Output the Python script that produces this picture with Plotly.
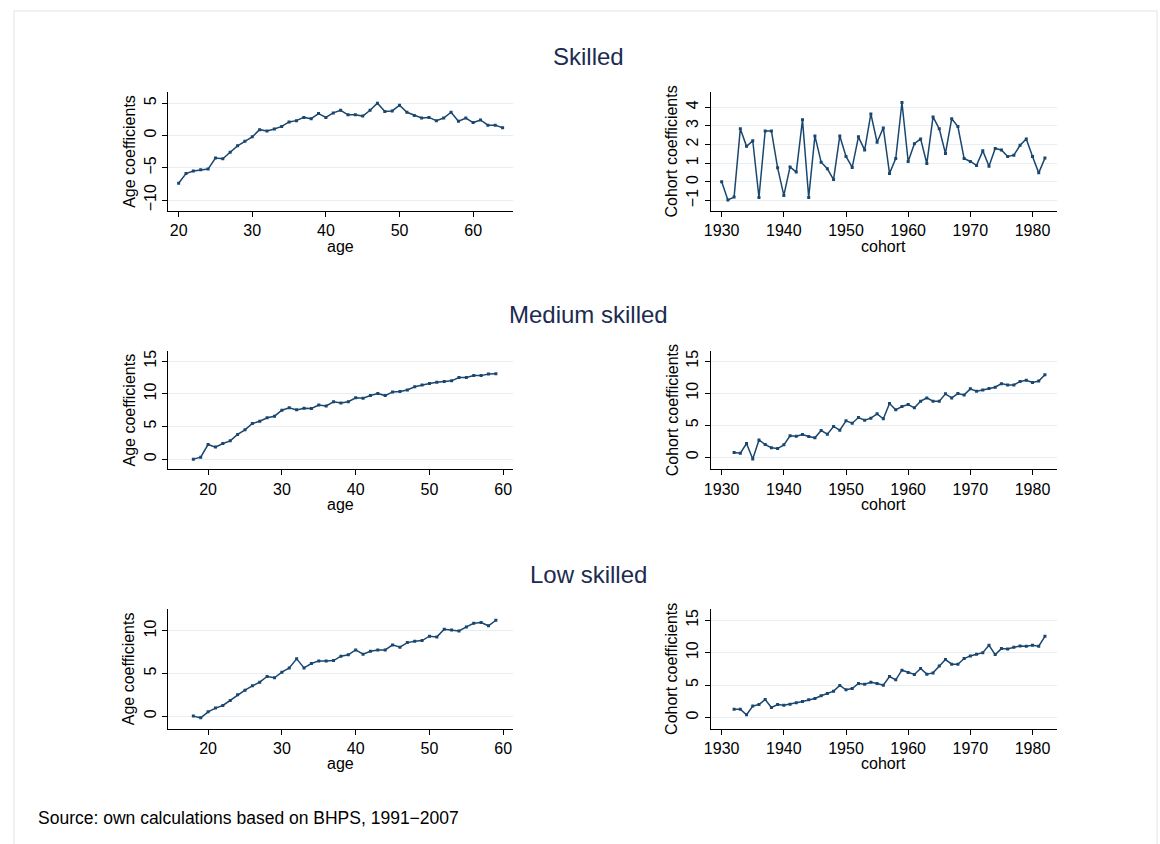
import plotly.graph_objects as go

W, H = 1160, 844

# ---------------- data ----------------
skilled_age = list(range(20, 65))
skilled_age_coef = [-7.4, -5.9, -5.5, -5.3, -5.2, -3.5, -3.6, -2.6, -1.6, -0.9, -0.2, 0.9, 0.7, 1.0, 1.4,
                    2.1, 2.3, 2.8, 2.6, 3.4, 2.8, 3.5, 3.9, 3.2, 3.2, 3.0, 3.9, 5.0, 3.7, 3.8,
                    4.7, 3.6, 3.1, 2.7, 2.8, 2.3, 2.7, 3.6, 2.2, 2.7, 2.0, 2.4, 1.6, 1.6, 1.2]

skilled_cohort = list(range(1930, 1983))
skilled_cohort_coef = [0.0, -0.97, -0.82, 2.84, 1.9, 2.2, -0.84, 2.73, 2.73, 0.75, -0.73, 0.8, 0.52, 3.32,
                       -0.84, 2.46, 1.05, 0.7, 0.12, 2.46, 1.36, 0.77, 2.41, 1.7, 3.64, 2.12, 2.89, 0.45,
                       1.25, 4.25, 1.09, 2.04, 2.3, 0.98, 3.48, 2.84, 1.52, 3.38, 2.96, 1.25, 1.09, 0.88,
                       1.66, 0.84, 1.79, 1.71, 1.36, 1.43, 1.96, 2.3, 1.36, 0.48, 1.27]

medium_age = list(range(18, 60))
medium_age_coef = [0.0, 0.3, 2.24, 1.84, 2.4, 2.8, 3.78, 4.49, 5.46, 5.8, 6.33, 6.58, 7.5, 7.86, 7.55,
                   7.8, 7.76, 8.3, 8.16, 8.78, 8.6, 8.8, 9.39, 9.34, 9.74, 10.05, 9.74, 10.3, 10.36,
                   10.6, 11.1, 11.38, 11.6, 11.8, 11.9, 12.0, 12.5, 12.5, 12.8, 12.8, 13.06, 13.1]

medium_cohort = list(range(1932, 1983))
medium_cohort_coef = [0.73, 0.62, 2.14, -0.3, 2.7, 1.98, 1.46, 1.35, 1.93, 3.33, 3.28, 3.54, 3.23, 3.02,
                      4.17, 3.6, 4.8, 4.22, 5.68, 5.31, 6.2, 5.78, 6.1, 6.77, 5.99, 8.39, 7.4, 7.92,
                      8.23, 7.71, 8.75, 9.27, 8.75, 8.75, 9.9, 9.27, 9.95, 9.74, 10.68, 10.3, 10.5,
                      10.73, 10.94, 11.5, 11.3, 11.3, 11.82, 12.03, 11.67, 11.9, 12.9]

low_age = list(range(18, 60))
low_age_coef = [0.0, -0.2, 0.5, 0.94, 1.25, 1.84, 2.5, 3.05, 3.55, 3.98, 4.65, 4.5, 5.16, 5.66, 6.72,
                5.66, 6.17, 6.48, 6.48, 6.52, 7.03, 7.19, 7.77, 7.27, 7.62, 7.77, 7.77, 8.36, 8.09,
                8.63, 8.79, 8.87, 9.38, 9.3, 10.2, 10.12, 10.0, 10.47, 10.9, 10.98, 10.6, 11.25]

low_cohort = list(range(1932, 1983))
low_cohort_coef = [1.28, 1.28, 0.41, 1.75, 2.0, 2.77, 1.54, 2.0, 1.9, 2.05, 2.26, 2.47, 2.72, 2.93,
                   3.34, 3.7, 4.06, 4.94, 4.27, 4.47, 5.24, 5.14, 5.44, 5.24, 4.98, 6.32, 5.8, 7.29,
                   6.93, 6.63, 7.55, 6.68, 6.88, 7.96, 8.94, 8.22, 8.22, 9.09, 9.5, 9.76, 10.0, 11.13,
                   9.7, 10.63, 10.58, 10.83, 11.04, 10.99, 11.14, 10.99, 12.53]

group_titles = ["Skilled", "Medium skilled", "Low skilled"]
age_ticks = [[-10, -5, 0, 5], [0, 5, 10, 15], [0, 5, 10]]
cohort_ticks = [[-1, 0, 1, 2, 3, 4], [0, 5, 10, 15], [0, 5, 10, 15]]
age_xticks = [[20, 30, 40, 50, 60], [20, 30, 40, 50, 60], [20, 30, 40, 50, 60]]
cohort_xticks = [1930, 1940, 1950, 1960, 1970, 1980]
source_note = "Source: own calculations based on BHPS, 1991\u22122007"

# ---------------- layout geometry (pixels) ----------------
LEFT_X = (162, 509)
RIGHT_X = (708, 1056)
ROWS = [(91, 210.5), (350.5, 469), (609, 728.5)]
age_xrange = [(18.56, 65.40), (14.57, 61.31), (14.57, 61.31)]
cohort_xrange = (1928.24, 1983.88)
age_yrange = [(-11.73, 6.75), (-1.58, 16.56), (-1.47, 12.54)]
cohort_yrange = [(-1.578, 4.82), (-1.92, 16.59), (-1.73, 16.70)]
title_y = [56, 314, 574]

LINE = "#1a476f"
GRID = "#e6eef1"
TITLE_C = "#1c2b50"
FONT = "Liberation Sans, Arial, sans-serif"
TICK_SIZE = 16
AXT_SIZE = 16


def fx(p):
    return p / W


def fy(p):
    return 1 - p / H


series = [
    (skilled_age, skilled_age_coef, skilled_cohort, skilled_cohort_coef),
    (medium_age, medium_age_coef, medium_cohort, medium_cohort_coef),
    (low_age, low_age_coef, low_cohort, low_cohort_coef),
]

fig = go.Figure()
annotations = []
layout_axes = {}

for r, (ax_, ay_, cx_, cy_) in enumerate(series):
    top, bot = ROWS[r]
    for c in range(2):
        idx = r * 2 + c + 1
        xa = "x" if idx == 1 else f"x{idx}"
        ya = "y" if idx == 1 else f"y{idx}"
        xs, ys = (ax_, ay_) if c == 0 else (cx_, cy_)
        fig.add_trace(go.Scatter(
            x=xs, y=ys, mode="lines+markers", xaxis=xa, yaxis=ya,
            line=dict(color=LINE, width=1.5),
            marker=dict(color=LINE, size=3, symbol="square"),
            showlegend=False, hoverinfo="x+y"))
        xpx = LEFT_X if c == 0 else RIGHT_X
        xr = age_xrange[r] if c == 0 else cohort_xrange
        yr = age_yrange[r] if c == 0 else cohort_yrange[r]
        xt = age_xticks[r] if c == 0 else cohort_xticks
        yt = age_ticks[r] if c == 0 else cohort_ticks[r]
        xkey = "xaxis" if idx == 1 else f"xaxis{idx}"
        ykey = "yaxis" if idx == 1 else f"yaxis{idx}"
        layout_axes[xkey] = dict(
            domain=[fx(xpx[0]), fx(xpx[1])], anchor=ya, range=list(xr),
            tickvals=xt, ticks="outside", ticklen=5, tickcolor="#000000", tickwidth=1,
            showline=True, linecolor="#000000", linewidth=1, showgrid=False, zeroline=False,
            tickfont=dict(size=TICK_SIZE, color="#000000", family=FONT), fixedrange=True)
        layout_axes[ykey] = dict(
            domain=[fy(bot), fy(top)], anchor=xa, range=list(yr),
            tickvals=yt, ticks="outside", ticklen=5, tickcolor="#000000", tickwidth=1,
            tickangle=-90, showline=True, linecolor="#000000", linewidth=1,
            showgrid=True, gridcolor=GRID, gridwidth=1.2, zeroline=False,
            tickfont=dict(size=TICK_SIZE, color="#000000", family=FONT), fixedrange=True)
        # axis titles
        annotations.append(dict(
            text="age" if c == 0 else "cohort", xref="paper", yref="paper",
            x=fx((xpx[0] + xpx[1]) / 2), y=fy(bot + 35), xanchor="center", yanchor="middle",
            showarrow=False, font=dict(size=AXT_SIZE, color="#000000", family=FONT)))
        annotations.append(dict(
            text="Age coefficients" if c == 0 else "Cohort coefficients",
            xref="paper", yref="paper", textangle=-90,
            x=fx(xpx[0] - 39), y=fy((top + bot) / 2), xanchor="center", yanchor="middle",
            showarrow=False, font=dict(size=AXT_SIZE, color="#000000", family=FONT)))
    annotations.append(dict(
        text=group_titles[r], xref="paper", yref="paper", x=fx(585), y=fy(title_y[r]),
        xanchor="center", yanchor="middle", showarrow=False,
        font=dict(size=24, color=TITLE_C, family=FONT)))

annotations.append(dict(
    text=source_note, xref="paper", yref="paper", x=fx(29), y=fy(818),
    xanchor="left", yanchor="middle", showarrow=False,
    font=dict(size=17.5, color="#000000", family=FONT)))

fig.update_layout(
    width=W, height=H, autosize=False,
    margin=dict(l=0, r=0, t=0, b=0, pad=0),
    paper_bgcolor="#ffffff", plot_bgcolor="#ffffff",
    annotations=annotations,
    shapes=[dict(type="rect", xref="paper", yref="paper",
                 x0=fx(7), x1=fx(1157), y0=fy(850), y1=fy(10),
                 line=dict(color="#e8eff2", width=1.5), fillcolor="rgba(0,0,0,0)", layer="below")],
    **layout_axes)

fig.write_html("out.html", config={"displayModeBar": False},
               post_script="document.body.style.margin='0';document.body.style.overflow='hidden';")
